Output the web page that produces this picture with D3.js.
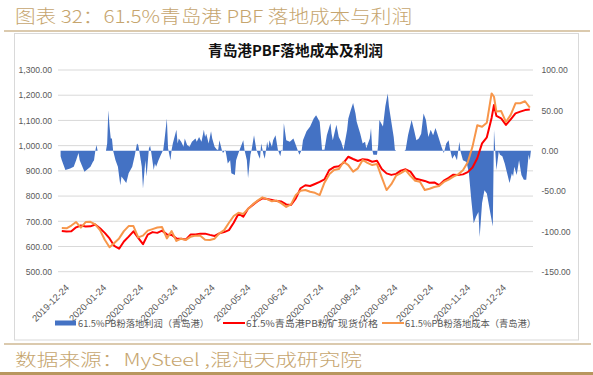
<!DOCTYPE html>
<html><head><meta charset="utf-8">
<script src="https://cdn.jsdelivr.net/npm/d3@7"></script>
<style>body{margin:0;background:#fff}svg{display:block}</style>
</head><body>
<script>
// ---------- DATA ----------
const lineDates = ["2019-12-23","2019-12-27","2019-12-31","2020-01-04","2020-01-08","2020-01-12","2020-01-16","2020-01-20","2020-01-24","2020-01-28",
"2020-02-01","2020-02-05","2020-02-09","2020-02-13","2020-02-17","2020-02-21","2020-02-25","2020-02-29","2020-03-04","2020-03-08",
"2020-03-12","2020-03-16","2020-03-20","2020-03-24","2020-03-28","2020-04-01","2020-04-05","2020-04-09","2020-04-13","2020-04-17",
"2020-04-21","2020-04-25","2020-04-29","2020-05-03","2020-05-07","2020-05-11","2020-05-15","2020-05-19","2020-05-23","2020-05-27",
"2020-05-31","2020-06-04","2020-06-08","2020-06-12","2020-06-16","2020-06-20","2020-06-24","2020-06-28","2020-07-02","2020-07-06",
"2020-07-10","2020-07-14","2020-07-18","2020-07-22","2020-07-26","2020-07-30","2020-08-03","2020-08-07","2020-08-11","2020-08-15",
"2020-08-19","2020-08-23","2020-08-27","2020-08-31","2020-09-04","2020-09-08","2020-09-12","2020-09-16","2020-09-20","2020-09-24",
"2020-09-28","2020-10-02","2020-10-06","2020-10-10","2020-10-14","2020-10-18","2020-10-22","2020-10-26","2020-10-30","2020-11-03",
"2020-11-07","2020-11-11","2020-11-15","2020-11-19","2020-11-23","2020-11-27","2020-12-01","2020-12-05","2020-12-09","2020-12-13",
"2020-12-17","2020-12-19","2020-12-21","2020-12-25","2020-12-29","2021-01-02","2021-01-06","2021-01-10","2021-01-14","2021-01-18"];

const priceValues = [661,659,660,676,683,679,680,687,672,654,
632,602,591,620,639,660,634,609,647,657,
654,663,648,646,632,631,628,648,648,651,
651,646,642,652,657,665,694,730,718,750,
765,780,791,788,784,780,778,767,765,791,
831,843,840,848,856,866,903,915,918,932,
956,947,939,946,944,936,940,907,890,884,
888,901,906,897,870,865,860,853,854,843,
861,872,885,884,886,895,913,950,1009,1033,
1110,1161,1118,1108,1082,1104,1128,1135,1141,1143];

const costValues = [673,672,683,697,675,697,698,688,665,627,
597,614,632,661,681,681,636,643,663,669,
675,677,632,661,622,631,626,639,643,643,
627,626,631,652,665,694,721,734,729,749,
767,782,795,788,779,782,771,757,767,804,
821,824,817,813,804,853,886,903,907,936,
923,897,910,943,932,923,927,874,824,847,
881,891,903,880,861,857,824,829,836,840,
856,865,877,886,902,934,996,1081,1075,1091,
1207,1194,1135,1137,1094,1122,1168,1168,1176,1151];

const profitDates = ["2019-12-22","2019-12-23","2019-12-26","2019-12-30","2020-01-02","2020-01-04","2020-01-06","2020-01-07","2020-01-11","2020-01-16",
"2020-01-18","2020-01-19","2020-01-20","2020-01-21","2020-01-22","2020-01-29","2020-01-30","2020-01-31","2020-02-01","2020-02-02",
"2020-02-03","2020-02-04","2020-02-06","2020-02-08","2020-02-10","2020-02-11","2020-02-13","2020-02-15","2020-02-17","2020-02-20",
"2020-02-22","2020-02-24","2020-02-25","2020-02-26","2020-02-28","2020-02-29","2020-03-02","2020-03-03","2020-03-05","2020-03-06",
"2020-03-07","2020-03-09","2020-03-10","2020-03-11","2020-03-13","2020-03-15","2020-03-17","2020-03-18","2020-03-20","2020-03-21",
"2020-03-23","2020-03-24","2020-03-25","2020-03-28","2020-03-29","2020-03-30","2020-04-01","2020-04-03","2020-04-04","2020-04-06",
"2020-04-08","2020-04-10","2020-04-13","2020-04-14","2020-04-16","2020-04-18","2020-04-20","2020-04-21","2020-04-22","2020-04-24",
"2020-04-26","2020-04-27","2020-04-29","2020-05-01","2020-05-02","2020-05-03","2020-05-05","2020-05-06","2020-05-08","2020-05-09",
"2020-05-10","2020-05-12","2020-05-13","2020-05-16","2020-05-17","2020-05-19","2020-05-20","2020-05-23","2020-05-24","2020-05-26",
"2020-05-27","2020-05-29","2020-05-30","2020-06-01","2020-06-03","2020-06-05","2020-06-06","2020-06-07","2020-06-09","2020-06-10",
"2020-06-12","2020-06-13","2020-06-14","2020-06-16","2020-06-17","2020-06-19","2020-06-21","2020-06-23","2020-06-24","2020-06-25",
"2020-06-26","2020-06-28","2020-07-01","2020-07-04","2020-07-07","2020-07-09","2020-07-11","2020-07-12","2020-07-15","2020-07-18",
"2020-07-21","2020-07-23","2020-07-26","2020-07-28","2020-07-30","2020-08-01","2020-08-04","2020-08-05","2020-08-06","2020-08-09",
"2020-08-11","2020-08-13","2020-08-15","2020-08-18","2020-08-19","2020-08-21","2020-08-23","2020-08-25","2020-08-26","2020-08-29",
"2020-08-31","2020-09-02","2020-09-03","2020-09-06","2020-09-07","2020-09-08","2020-09-09","2020-09-12","2020-09-13","2020-09-14",
"2020-09-17","2020-09-19","2020-09-21","2020-09-22","2020-09-24","2020-09-26","2020-09-27","2020-09-28","2020-10-05","2020-10-06",
"2020-10-08","2020-10-11","2020-10-13","2020-10-15","2020-10-17","2020-10-19","2020-10-21","2020-10-23","2020-10-25","2020-10-27",
"2020-10-29","2020-10-31","2020-11-02","2020-11-05","2020-11-07","2020-11-09","2020-11-11","2020-11-12","2020-11-14","2020-11-16",
"2020-11-18","2020-11-20","2020-11-21","2020-11-23","2020-11-26","2020-11-28","2020-11-30","2020-12-02","2020-12-04","2020-12-06",
"2020-12-07","2020-12-09","2020-12-11","2020-12-13","2020-12-16","2020-12-18","2020-12-19","2020-12-20","2020-12-21","2020-12-23",
"2020-12-24","2020-12-26","2020-12-28","2020-12-30","2021-01-01","2021-01-03","2021-01-04","2021-01-05","2021-01-07","2021-01-09",
"2021-01-11","2021-01-13","2021-01-15","2021-01-17","2021-01-18","2021-01-19"];

const profitValues = [-7,-12,-24,-22,-20,-12,-3,-12,-26,-20,
-14,-12,-1,7,0,0,9,50,30,15,
15,0,-12,-20,-43,-32,-36,-40,-28,-20,
-7,9,7,-1,-20,-47,-12,-32,3,6,
-3,-24,-16,-20,-12,-5,1,13,40,3,
-12,1,9,26,9,15,11,5,15,7,
5,11,15,11,17,11,26,17,21,9,
24,15,5,1,1,13,1,-3,1,-7,
-16,-12,-28,-30,-12,-3,1,13,1,-12,
-34,-5,1,19,1,-7,-10,9,-5,-10,
11,3,13,5,13,19,1,-7,1,0,
34,13,11,15,3,-5,1,13,24,30,
40,44,36,1,1,19,34,21,13,32,
17,11,1,26,40,50,59,46,36,21,
9,11,3,15,28,1,-5,-5,7,38,
30,55,71,55,36,17,1,0,0,1,
19,38,26,13,15,21,46,38,17,26,
19,28,19,5,-3,9,13,3,-10,-5,
-12,11,-1,-12,-14,-28,-61,-90,-82,-76,
-107,-65,-49,-53,-78,-94,26,1,-24,-1,
-5,-7,-16,-28,-40,-28,-32,-20,-30,-12,
-30,-36,-36,-5,-12,1];

const leftTicks = [500,600,700,800,900,1000,1100,1200,1300];
const rightTicks = [-150,-100,-50,0,50,100];
const xTickLabels = ["2019-12-24","2020-01-24","2020-02-24","2020-03-24","2020-04-24","2020-05-24","2020-06-24",
"2020-07-24","2020-08-24","2020-09-24","2020-10-24","2020-11-24","2020-12-24"];
const seriesNames = ["61.5%PB粉落地利润（青岛港）","61.5%青岛港PB粉矿现货价格","61.5%PB粉落地成本（青岛港）"];
const pageTitle = "图表 32：61.5%青岛港 PBF 落地成本与利润";
const chartTitle = "青岛港PBF落地成本及利润";
const sourceText = "数据来源：MySteel ,混沌天成研究院";
const xDomain = ["2019-12-22","2021-01-20"];

// ---------- RENDER ----------
const W = 593, H = 375;
const parse = d3.timeParse("%Y-%m-%d");
const loc = d3.formatLocale({decimal:".", thousands:",", grouping:[3], currency:["",""], minus:"-"});
const fmtL = loc.format(",.2f"), fmtR = loc.format(".2f");
const gold = "#c6a56e", goldLine = "#b8965e";
const cjk = "'Noto Sans CJK SC','Noto Sans',sans-serif";
const num = "'Liberation Sans','DejaVu Sans',sans-serif";

const svg = d3.select("body").append("svg").attr("width", W).attr("height", H);

// page header
svg.append("text").attr("x", 15).attr("y", 22.5).attr("font-family", cjk).attr("font-size", 18)
  .attr("font-weight", 300).attr("fill", gold).attr("textLength", 397).attr("lengthAdjust", "spacingAndGlyphs").text(pageTitle);
svg.append("line").attr("x1", 4).attr("x2", 590).attr("y1", 31).attr("y2", 31).attr("stroke", goldLine).attr("stroke-width", 1.2);

// chart frame
svg.append("rect").attr("x", 14.5).attr("y", 33.5).attr("width", 564).attr("height", 306.5)
  .attr("fill", "#fff").attr("stroke", "#d9d9d9").attr("stroke-width", 1);

svg.append("text").attr("x", 295.5).attr("y", 56).attr("text-anchor", "middle").attr("font-family", cjk)
  .attr("font-size", 15).attr("font-weight", "bold").attr("fill", "#111")
  .attr("textLength", 175).attr("lengthAdjust", "spacingAndGlyphs").text(chartTitle);

// scales
const x = d3.scaleTime().domain(xDomain.map(parse)).range([60.6, 532.2]);
const yL = d3.scaleLinear().domain([500, 1300]).range([271.7, 70]);
const yR = d3.scaleLinear().domain([-150, 100]).range([271.7, 70]);

// gridlines
svg.append("g").selectAll("line").data(leftTicks).join("line")
  .attr("x1", 58).attr("x2", 533).attr("y1", d => yL(d)).attr("y2", d => yL(d))
  .attr("stroke", "#d9d9d9").attr("stroke-width", 1);

// left axis
const gL = svg.append("g").attr("transform", "translate(56,0)")
  .call(d3.axisLeft(yL).tickValues(leftTicks).tickFormat(fmtL).tickSize(0).tickPadding(4));
gL.select(".domain").remove();
gL.selectAll("text").attr("font-family", num).attr("font-size", 8.6).attr("fill", "#595959");

// right axis
const gR = svg.append("g").attr("transform", "translate(538,0)")
  .call(d3.axisRight(yR).tickValues(rightTicks).tickFormat(fmtR).tickSize(0).tickPadding(3.5));
gR.select(".domain").remove();
gR.selectAll("text").attr("font-family", num).attr("font-size", 8.6).attr("fill", "#595959");

// x labels
const gX = svg.append("g").attr("transform", "translate(0,276)")
  .call(d3.axisBottom(x).tickValues(xTickLabels.map(parse)).tickFormat(d3.timeFormat("%Y-%m-%d")).tickSize(0));
gX.select(".domain").remove();
gX.selectAll("text").attr("font-family", num).attr("font-size", 9.4).attr("fill", "#595959")
  .attr("text-anchor", "end").attr("dy", "0.35em").attr("y", 0)
  .attr("transform", "translate(4,10) rotate(-45)");

// profit area
const profit = profitDates.map((d, i) => ({date: parse(d), v: profitValues[i]}));
svg.append("path").datum(profit)
  .attr("d", d3.area().x(d => x(d.date)).y0(yR(0)).y1(d => yR(d.v)))
  .attr("fill", "#4472c4");

// lines
const price = lineDates.map((d, i) => ({date: parse(d), v: priceValues[i]}));
const cost = lineDates.map((d, i) => ({date: parse(d), v: costValues[i]}));
const lineGen = d3.line().x(d => x(d.date)).y(d => yL(d.v));
svg.append("path").datum(price).attr("d", lineGen).attr("fill", "none")
  .attr("stroke", "#ff0000").attr("stroke-width", 2).attr("stroke-linejoin", "round");
svg.append("path").datum(cost).attr("d", lineGen).attr("fill", "none")
  .attr("stroke", "#f7964a").attr("stroke-width", 2).attr("stroke-linejoin", "round");

// legend
const leg = svg.append("g").attr("font-family", cjk).attr("font-size", 9.5).attr("fill", "#595959");
const legItems = [
  {x: 55, type: "rect", color: "#4472c4", tl: 131},
  {x: 223, type: "line", color: "#ff0000", tl: 132},
  {x: 382, type: "line", color: "#f7964a", tl: 131}
];
legItems.forEach((it, i) => {
  if (it.type === "rect") {
    leg.append("rect").attr("x", it.x).attr("y", 320.5).attr("width", 21).attr("height", 5).attr("fill", it.color);
  } else {
    leg.append("line").attr("x1", it.x).attr("x2", it.x + 22).attr("y1", 323).attr("y2", 323)
      .attr("stroke", it.color).attr("stroke-width", 2);
  }
  leg.append("text").attr("x", it.x + 23).attr("y", 326.5).attr("textLength", it.tl)
    .attr("lengthAdjust", "spacingAndGlyphs").text(seriesNames[i]);
});

// footer
svg.append("line").attr("x1", 4).attr("x2", 591).attr("y1", 344).attr("y2", 344).attr("stroke", goldLine).attr("stroke-width", 1.2);
svg.append("text").attr("x", 15).attr("y", 366).attr("font-family", cjk).attr("font-size", 17)
  .attr("font-weight", 300).attr("fill", gold).attr("textLength", 347).attr("lengthAdjust", "spacingAndGlyphs").text(sourceText);
svg.append("line").attr("x1", 0).attr("x2", 593).attr("y1", 373.5).attr("y2", 373.5).attr("stroke", goldLine).attr("stroke-width", 3);
</script>
</body></html>
